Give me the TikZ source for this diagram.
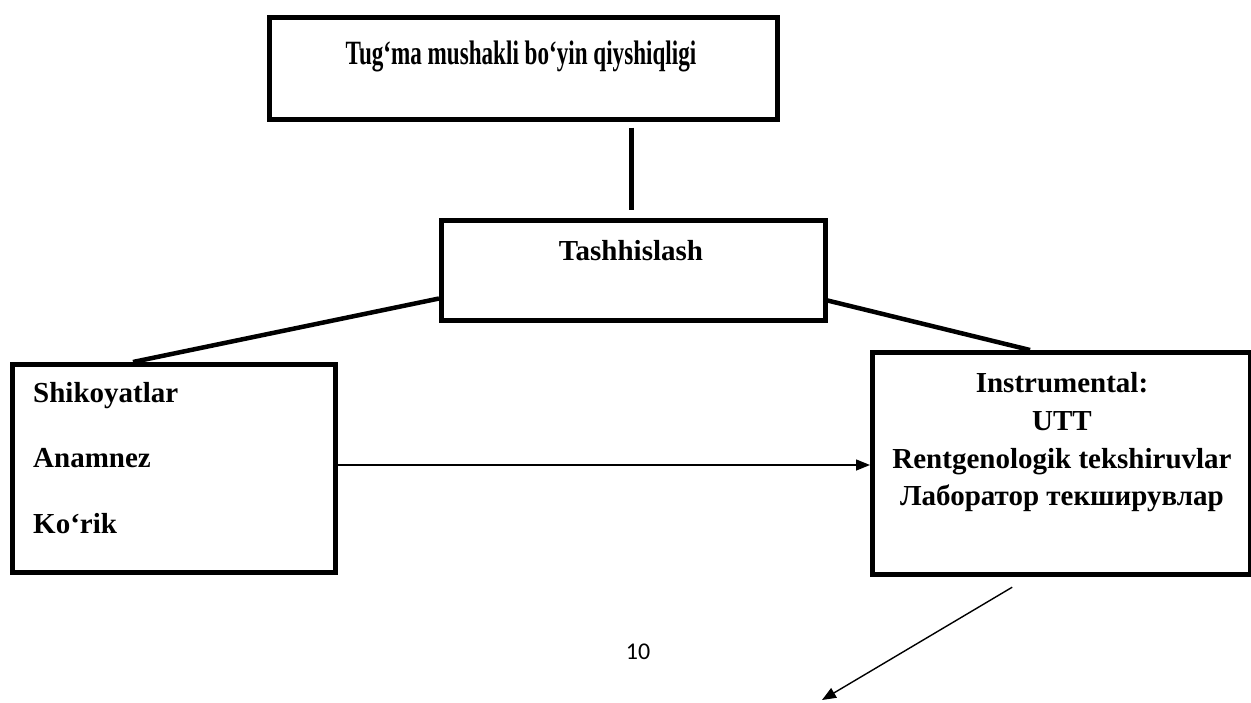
\documentclass[tikz,border=0pt]{standalone}
\usepackage{fontspec}
\setmainfont{Liberation Serif}
\newfontfamily\pagefont{Carlito}
\usepackage{graphicx}
\usetikzlibrary{arrows.meta}
\begin{document}
\begin{tikzpicture}[x=1pt,y=-1pt,
  box/.style={draw=black, line width=4.5pt, inner sep=0pt, anchor=north west, fill=white},
  thick line/.style={line width=5pt},
  thin arrow/.style={line width=1.4pt, -{Triangle[length=14pt,width=11pt]}},
  lbl/.style={font=\fontsize{29}{34}\selectfont\bfseries, inner sep=0pt}]
\fill[white] (0,0) rectangle (1251,702);
\useasboundingbox (0,0) rectangle (1251,702);

% boxes
\node[box, minimum width=508pt, minimum height=102pt] (top) at (267,15) {};
\node[box, minimum width=384pt, minimum height=100pt] (tash) at (439,218) {};
\node[box, minimum width=323pt, minimum height=208pt] (left) at (10,362) {};
\node[box, minimum width=378pt, minimum height=222pt] (right) at (870,350) {};

% texts
\node[inner sep=0pt, anchor=base] (toptext) at (521,64)
  {\scalebox{0.68}[1]{\fontsize{34}{40}\selectfont\bfseries Tug‘ma mushakli bo‘yin qiyshiqligi}};
\node[lbl, anchor=base] (tashtext) at (631,260) {Tashhislash};
\node[lbl, anchor=base west] (l1) at (33,402) {Shikoyatlar};
\node[lbl, anchor=base west] (l2) at (33,467) {Anamnez};
\node[lbl, anchor=base west] (l3) at (33,533) {Ko‘rik};
\node[lbl, anchor=base] (r1) at (1062,392) {Instrumental:};
\node[lbl, anchor=base] (r2) at (1062,430) {UTT};
\node[lbl, anchor=base] (r3) at (1062,468) {Rentgenologik tekshiruvlar};
\node[lbl, anchor=base] (r4) at (1062,505) {Лаборатор текширувлар};
\node[font=\pagefont\fontsize{24}{28}\selectfont, inner sep=0pt, anchor=base] (pagenum) at (638,659) {10};

% connectors
\draw[thick line, shorten <=6pt, shorten >=8pt]
  ([xshift=-2pt]tash.north |- top.south) -- ([xshift=-2pt]tash.north);
\draw[line width=4.5pt] ([yshift=24pt]tash.south west) -- ([xshift=123pt]left.north west);
\draw[line width=4.5pt] ([yshift=23pt,xshift=-4pt]tash.south east) -- ([xshift=160pt]right.north west);
\draw[thin arrow] (left.east |- 0,465) -- (right.west |- 0,465);
\coordinate (dend) at (822,700);
\draw[thin arrow, shorten <=21pt] ([xshift=-31pt]right.south) -- (dend);
\end{tikzpicture}
\end{document}
